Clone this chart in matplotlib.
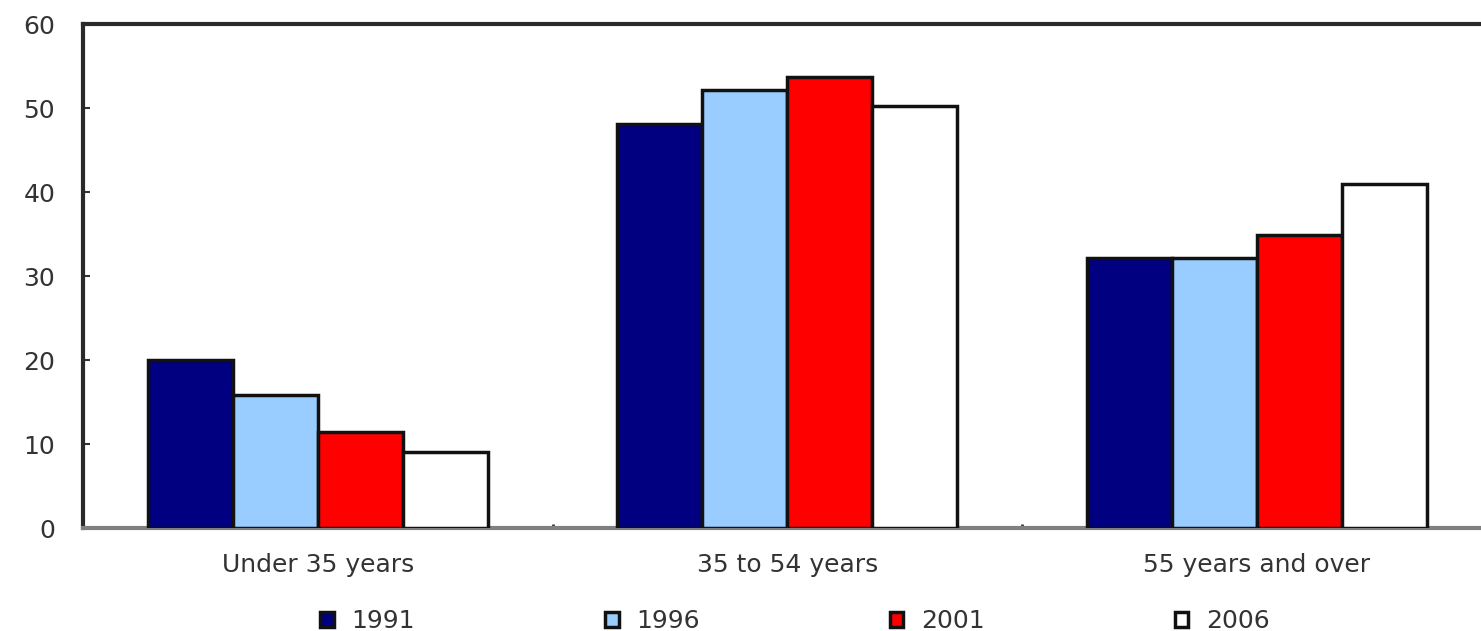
import numpy as np
import matplotlib.pyplot as plt

plt.rcParams['font.family'] = ['DejaVu Sans']

# Age groups and yearly shares (%)
age_groups = ['Under 35 years', '35 to 54 years', '55 years and over']
years = ['1991', '1996', '2001', '2006']
share_1991 = [20.0, 48.1, 32.1]
share_1996 = [15.8, 52.1, 32.1]
share_2001 = [11.4, 53.7, 34.9]
share_2006 = [9.0, 50.2, 41.0]

series = [share_1991, share_1996, share_2001, share_2006]
colors = ['#000080', '#99ccff', '#ff0000', '#ffffff']

fig = plt.figure(figsize=(14.81, 6.31), dpi=100)
ax = fig.add_axes([83 / 1481, 103 / 631, 1 - 83 / 1481, 504 / 631])

x = np.arange(len(age_groups))
width = 0.181
for i, (vals, col) in enumerate(zip(series, colors)):
    ax.bar(x + (i - 1.5) * width, vals, width, color=col,
           edgecolor='#111111', linewidth=2.5, label=years[i], zorder=3)

ax.set_ylim(0, 60)
ax.set_xlim(-0.5, 2.477)
ax.set_yticks(range(0, 61, 10))
ax.tick_params(axis='y', direction='in', length=5, width=1.5, color='#333333',
               labelsize=18, labelcolor='#333333', pad=20)
ax.set_xticks(x)
ax.set_xticklabels(age_groups, fontsize=18, color='#333333')
ax.tick_params(axis='x', length=0, pad=18)
# small separators between groups
ax.set_xticks([0.5, 1.5], minor=True)
ax.tick_params(axis='x', which='minor', direction='in', length=3, width=2,
               color='#333333')

for s in ['left', 'top']:
    ax.spines[s].set_linewidth(3)
    ax.spines[s].set_color('#2a2a2a')
ax.spines['bottom'].set_linewidth(3)
ax.spines['bottom'].set_color('#808080')
ax.spines['right'].set_visible(False)

leg = fig.legend(loc='center left', bbox_to_anchor=(320 / 1481, 10 / 631), ncol=4,
                 frameon=False, fontsize=18, handlelength=0.55, handleheight=0.55,
                 handletextpad=0.7, columnspacing=7.6, labelcolor='#333333',
                 borderpad=0, borderaxespad=0)

fig.savefig('out.png', dpi=100)
